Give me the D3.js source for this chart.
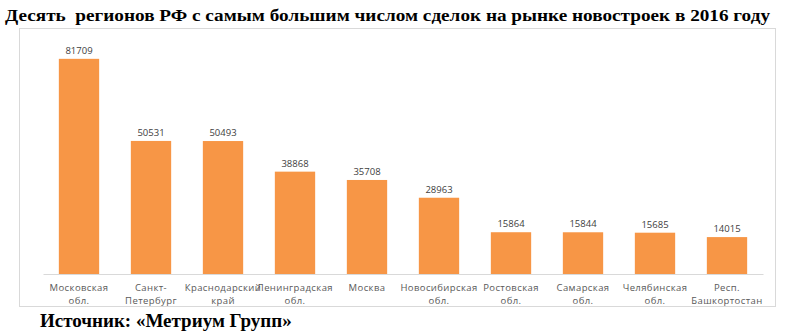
<!DOCTYPE html>
<html>
<head>
<meta charset="utf-8">
<script src="https://cdn.jsdelivr.net/npm/d3@7"></script>
<style>
  html, body { margin: 0; padding: 0; background: #fff; }
  svg { display: block; }
</style>
</head>
<body>
<svg id="chart" width="793" height="334"></svg>
<script>
// Regions and number of deals in new-build market, 2016
const regions = [
  ["Московская", "обл."],
  ["Санкт-", "Петербург"],
  ["Краснодарский", "край"],
  ["Ленинградская", "обл."],
  ["Москва"],
  ["Новосибирская", "обл."],
  ["Ростовская", "обл."],
  ["Самарская", "обл."],
  ["Челябинская", "обл."],
  ["Респ.", "Башкортостан"]
];
const deals = [81709, 50531, 50493, 38868, 35708, 28963, 15864, 15844, 15685, 14015];

const title = "Десять  регионов РФ с самым большим числом сделок на рынке новостроек в 2016 году";
const source = "Источник: «Метриум Групп»";

const svg = d3.select("#chart");

// chart frame
svg.append("rect")
  .attr("x", 19.5).attr("y", 28.5)
  .attr("width", 756).attr("height", 278)
  .attr("fill", "#fff").attr("stroke", "#d9d9d9").attr("stroke-width", 1);

const plot = { left: 43, right: 763, top: 37, bottom: 274 };

const x = d3.scaleBand()
  .domain(d3.range(deals.length))
  .range([plot.left, plot.right])
  .paddingInner(0.44)
  .paddingOuter(0.22);

const y = d3.scaleLinear()
  .domain([0, 90000])
  .range([plot.bottom, plot.top]);

// bars
svg.append("g").selectAll("rect")
  .data(deals)
  .join("rect")
  .attr("x", (d, i) => x(i))
  .attr("y", d => y(d))
  .attr("width", x.bandwidth())
  .attr("height", d => y(0) - y(d))
  .attr("fill", "#F79646");

// value labels
svg.append("g").selectAll("text")
  .data(deals)
  .join("text")
  .attr("x", (d, i) => x(i) + x.bandwidth() / 2)
  .attr("y", d => y(d) - 5)
  .attr("text-anchor", "middle")
  .attr("font-family", "'Open Sans', 'DejaVu Sans', sans-serif")
  .attr("font-size", 9.5)
  .attr("fill", "#404040")
  .text(d => d);

// category axis
const xAxis = d3.axisBottom(x).tickSize(0).tickFormat("");
const gx = svg.append("g")
  .attr("transform", `translate(0,${plot.bottom})`)
  .call(xAxis);
gx.select(".domain").attr("stroke", "#d9d9d9").attr("stroke-width", 1.2);

gx.selectAll(".tick").each(function (i) {
  const t = d3.select(this).append("text")
    .attr("text-anchor", "middle")
    .attr("font-family", "'Open Sans', 'DejaVu Sans', sans-serif")
    .attr("font-size", 9.5)
    .attr("letter-spacing", 0.4)
    .attr("fill", "#595959");
  regions[i].forEach((line, k) => {
    t.append("tspan").attr("x", 0).attr("y", 17 + k * 13).text(line);
  });
});

// title
svg.append("text")
  .attr("x", 5).attr("y", 21)
  .style("white-space", "pre")
  .attr("font-family", "'Liberation Serif', 'Times New Roman', serif")
  .attr("font-weight", "bold")
  .attr("font-size", 17.5)
  .attr("textLength", 765)
  .attr("lengthAdjust", "spacingAndGlyphs")
  .attr("fill", "#000")
  .text(title);

// source note
svg.append("text")
  .attr("x", 40).attr("y", 327)
  .attr("font-family", "'Liberation Serif', 'Times New Roman', serif")
  .attr("font-weight", "bold")
  .attr("font-size", 19)
  .attr("fill", "#000")
  .text(source);
</script>
</body>
</html>
